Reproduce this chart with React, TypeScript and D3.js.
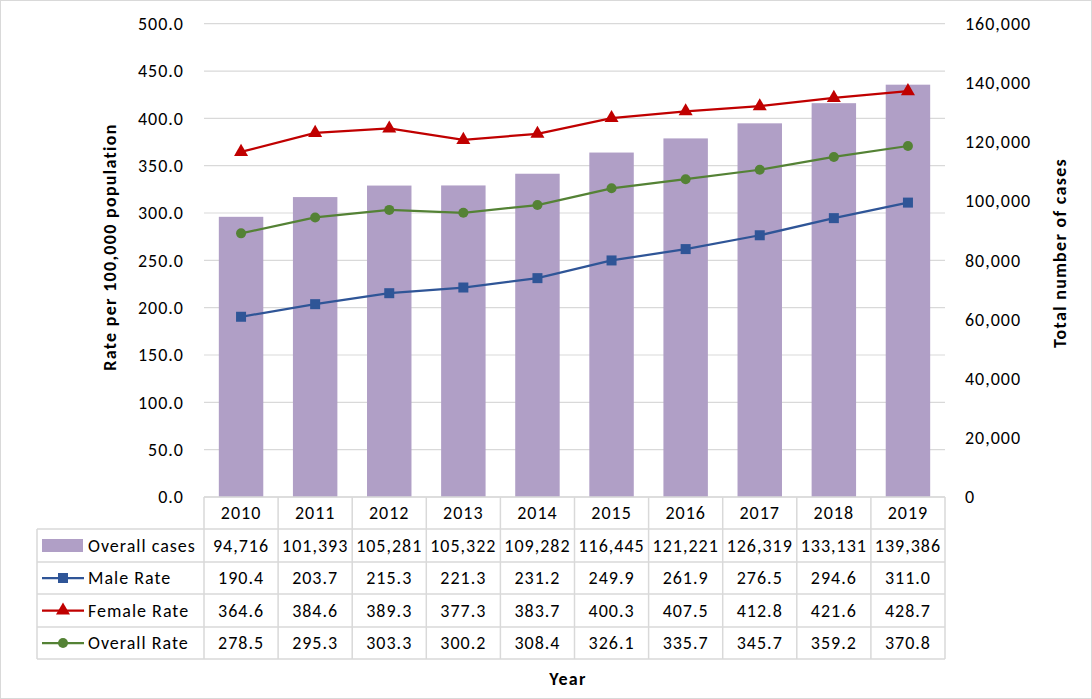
import React from "react";
import * as d3 from "d3";

const years = ["2010","2011","2012","2013","2014","2015","2016","2017","2018","2019"];
const overallCases = [94716,101393,105281,105322,109282,116445,121221,126319,133131,139386];
const maleRate = [190.4,203.7,215.3,221.3,231.2,249.9,261.9,276.5,294.6,311.0];
const femaleRate = [364.6,384.6,389.3,377.3,383.7,400.3,407.5,412.8,421.6,428.7];
const overallRate = [278.5,295.3,303.3,300.2,308.4,326.1,335.7,345.7,359.2,370.8];
const leftTicks = [0,50,100,150,200,250,300,350,400,450,500];
const rightTicks = [0,20000,40000,60000,80000,100000,120000,140000,160000];

const W = 1092, H = 699;
const FONT = "Carlito, Calibri, Lato, 'Open Sans', sans-serif";
const C_BAR = "#b09fc6";
const C_MALE = "#2f5597";
const C_FEMALE = "#c00000";
const C_OVERALL = "#548235";
const GRID = "#d9d9d9";
const FS = 18;
const LS = 1;

export default function App() {
  const x0 = 204, x1 = 945, yTop = 23.7, yBot = 497;
  const x = d3.scaleBand().domain(years).range([x0, x1]).paddingInner(0.4).paddingOuter(0.2);
  const xc = (y: string) => (x(y) as number) + x.bandwidth() / 2;
  const yL = d3.scaleLinear().domain([0, 500]).range([yBot, yTop]);
  const yR = d3.scaleLinear().domain([0, 160000]).range([yBot, yTop]);
  const colW = (x1 - x0) / years.length;
  const rowEdges = [497, 529, 562, 594, 627, 659];
  const fmtC = d3.format(",");
  const fmtR = d3.format(".1f");

  const series = [
    { name: "Male Rate", vals: maleRate, color: C_MALE, marker: "square" },
    { name: "Female Rate", vals: femaleRate, color: C_FEMALE, marker: "triangle" },
    { name: "Overall Rate", vals: overallRate, color: C_OVERALL, marker: "circle" },
  ];
  const line = (vals: number[]) =>
    d3.line<number>().x((_, i) => xc(years[i])).y((v) => yL(v))(vals) as string;

  const marker = (type: string, cx: number, cy: number, color: string, key: any) => {
    if (type === "square") return <rect key={key} x={cx - 5} y={cy - 5} width={10} height={10} fill={color} />;
    if (type === "triangle") return <path key={key} d={d3.symbol(d3.symbolTriangle, 85)() as string} transform={`translate(${cx},${cy})`} fill={color} />;
    return <circle key={key} cx={cx} cy={cy} r={5} fill={color} />;
  };

  const tableRows = [
    { name: "Overall cases", texts: overallCases.map(fmtC), kind: "bar", color: C_BAR, marker: "" },
    ...series.map((s) => ({ name: s.name, texts: s.vals.map(fmtR), kind: "line", color: s.color, marker: s.marker })),
  ];

  return (
    <svg width={W} height={H} style={{ position: "absolute", left: 0, top: 0, fontFamily: FONT }}>
      <rect x={0.5} y={0.5} width={W - 1} height={H - 1} fill="#fff" stroke="#d9d9d9" />
      {leftTicks.map((t) => (
        <line key={t} x1={x0} x2={x1} y1={yL(t)} y2={yL(t)} stroke={GRID} strokeWidth={1.2} />
      ))}
      {leftTicks.map((t) => (
        <text key={t} x={184} y={yL(t)} dy="0.35em" textAnchor="end" fontSize={FS} letterSpacing={LS} fill="#000">{fmtR(t)}</text>
      ))}
      {rightTicks.map((t) => (
        <text key={t} x={965} y={yR(t)} dy="0.35em" textAnchor="start" fontSize={FS} letterSpacing={LS} fill="#000">{fmtC(t)}</text>
      ))}
      {years.map((yr, i) => (
        <rect key={yr} x={x(yr)} y={yR(overallCases[i])} width={x.bandwidth()} height={yBot - yR(overallCases[i])} fill={C_BAR} />
      ))}
      {series.map((s) => (
        <g key={s.name}>
          <path d={line(s.vals)} fill="none" stroke={s.color} strokeWidth={2.25} />
          {s.vals.map((v, i) => marker(s.marker, xc(years[i]), yL(v), s.color, i))}
        </g>
      ))}
      <g stroke={GRID} strokeWidth={1.5} fill="none">
        {rowEdges.map((ry, i) => (
          <line key={"h" + i} x1={i === 0 ? x0 : 37} x2={x1} y1={ry} y2={ry} />
        ))}
        <line x1={37} x2={37} y1={rowEdges[1]} y2={rowEdges[5]} />
        {d3.range(years.length + 1).map((i) => (
          <line key={"v" + i} x1={x0 + i * colW} x2={x0 + i * colW} y1={rowEdges[0]} y2={rowEdges[5]} />
        ))}
      </g>
      {years.map((yr, i) => (
        <text key={yr} x={x0 + (i + 0.5) * colW} y={(rowEdges[0] + rowEdges[1]) / 2} dy="0.35em" textAnchor="middle" fontSize={FS} letterSpacing={LS}>{yr}</text>
      ))}
      {tableRows.map((r, ri) => {
        const cy = (rowEdges[ri + 1] + rowEdges[ri + 2]) / 2;
        return (
          <g key={r.name}>
            {r.kind === "bar" ? (
              <rect x={42} y={cy - 6.5} width={41} height={13} fill={r.color} />
            ) : (
              <g>
                <line x1={42} x2={84} y1={cy} y2={cy} stroke={r.color} strokeWidth={2.25} />
                {marker(r.marker, 63, cy, r.color, "m")}
              </g>
            )}
            <text x={88} y={cy} dy="0.35em" fontSize={FS} letterSpacing={LS}>{r.name}</text>
            {r.texts.map((t, i) => (
              <text key={i} x={x0 + (i + 0.5) * colW} y={cy} dy="0.35em" textAnchor="middle" fontSize={FS} letterSpacing={LS}>{t}</text>
            ))}
          </g>
        );
      })}
      <text transform={`translate(116,247) rotate(-90)`} textAnchor="middle" fontSize={FS} letterSpacing={1.3} fontWeight="bold">Rate per 100,000 population</text>
      <text transform={`translate(1066,253) rotate(-90)`} textAnchor="middle" fontSize={FS} letterSpacing={1.3} fontWeight="bold">Total number of cases</text>
      <text x={568} y={679} dy="0.35em" textAnchor="middle" fontSize={FS} letterSpacing={1.3} fontWeight="bold">Year</text>
    </svg>
  );
}
